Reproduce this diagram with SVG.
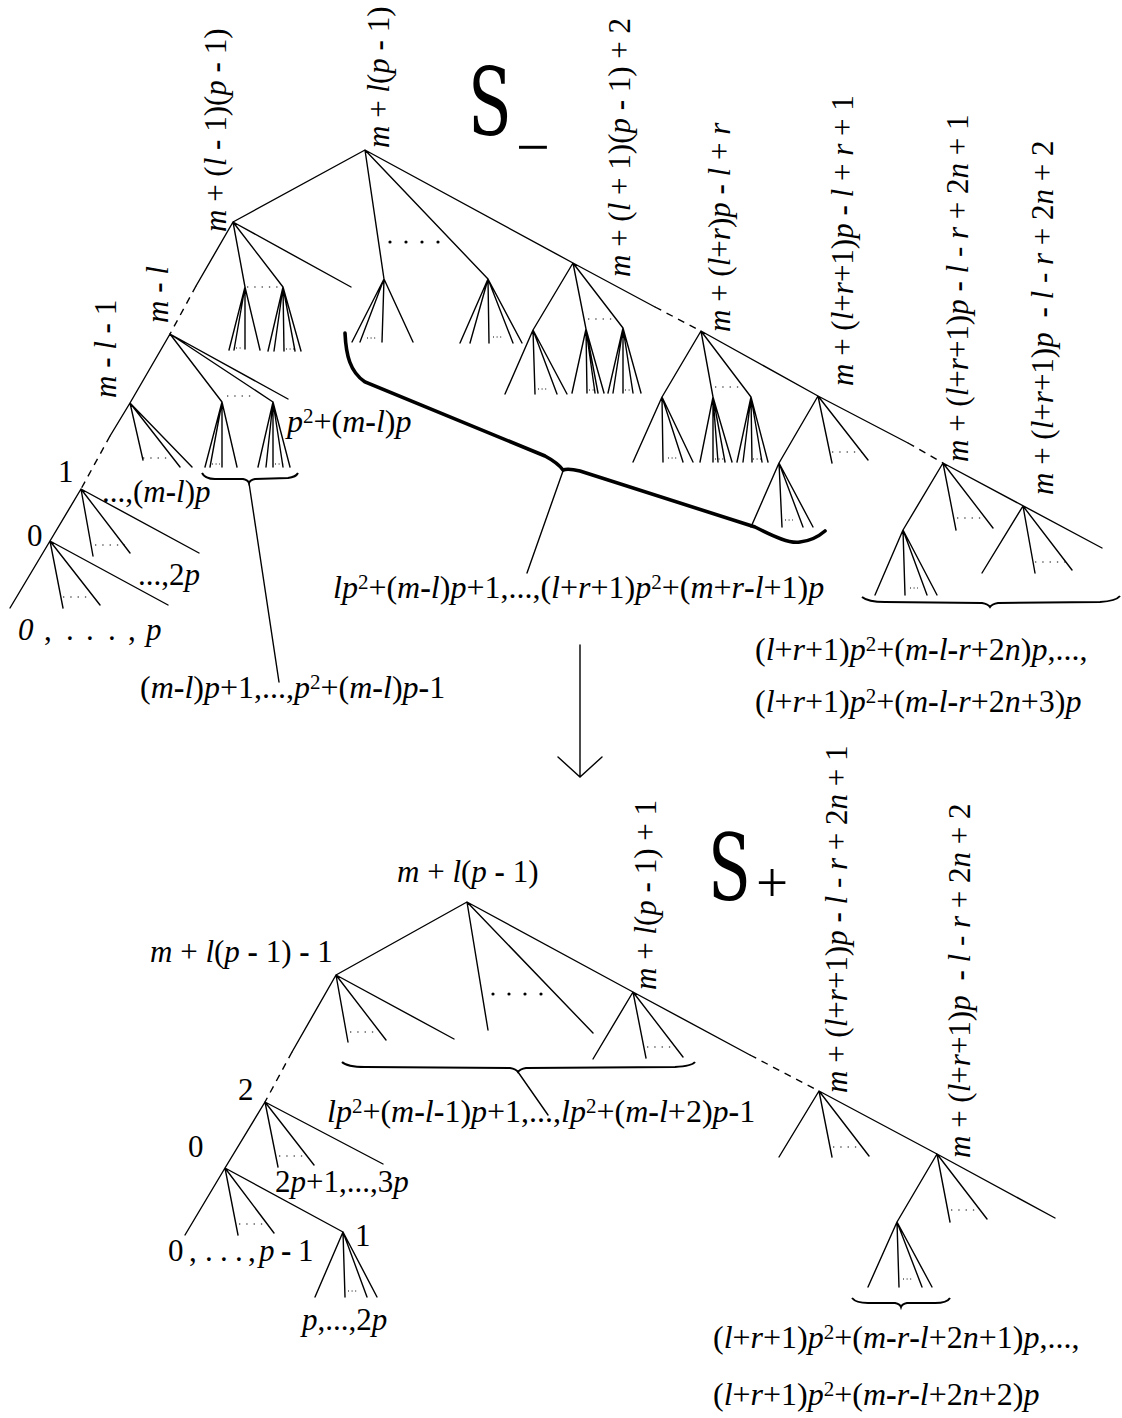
<svg xmlns="http://www.w3.org/2000/svg" width="1122" height="1418" viewBox="0 0 1122 1418" font-family="Liberation Serif, Times New Roman, Times, serif">
<style>
.t{font-family:'Liberation Serif','Times New Roman',Times,serif;font-size:31px;fill:#000}
.big{font-family:'DejaVu Serif',serif}
.c{font-size:32px}
.i{font-style:italic}
.h{font-weight:bold}
.sp{font-size:21px}
.e{stroke:#000;stroke-width:1.4;fill:none;stroke-linecap:round}
.ds{stroke:#000;stroke-width:1.4;stroke-dasharray:7 6;fill:none}
.dt{stroke:#000;stroke-width:1.2;stroke-dasharray:1.3 6;fill:none}
.dt2{stroke:#000;stroke-width:1;stroke-dasharray:1 2.6;fill:none}
.bd{stroke:#000;stroke-width:3.2;stroke-dasharray:0 16;stroke-linecap:round;fill:none}
.br{stroke:#000;stroke-width:2;fill:none}
.bb{stroke:#000;stroke-width:3.6;fill:none;stroke-linecap:round}
</style>
<rect width="1122" height="1418" fill="#fff"/>
<g id="connectors">
<path class="e" d="M365,150 L573,263 L655,307 M701,331 L818,396 L908,443 M943,463 L1102,548
M365,150 L233,222 M365,150 L384,279 M365,150 L488,279
M233,222 L196,286 M233,222 L245,287 M233,222 L283,287 M233,222 L351,287
M245,287 L229,350 M245,287 L234,350 M245,287 L245,349 M245,287 L260,350
M283,287 L268,351 M283,287 L274,351 M283,287 L284,351 M283,287 L295,351 M283,287 L301,351
M170,334 L130,403 M170,334 L222,402 M170,334 L273,402 M170,334 L288,399
M222,402 L205,467 M222,402 L210,467 M222,402 L222,467 M222,402 L237,467
M273,402 L258,467 M273,402 L266,467 M273,402 L273,467 M273,402 L283,467 M273,402 L290,467
M130,403 L110,436 M130,403 L143,460 M130,403 L180,467 M130,403 L192,467
M81,489 L50,541 M81,489 L93,556 M81,489 L130,553 M81,489 L199,553
M50,541 L10,608 M50,541 L63,608 M50,541 L100,605 M50,541 L168,605
M384,279 L352,342 M384,279 L360,342 M384,279 L382,342 M384,279 L413,342
M488,279 L460,343 M488,279 L470,343 M488,279 L489,343 M488,279 L513,343 M488,279 L522,343
M573,263 L533,330 M573,263 L586,329 M573,263 L623,328
M533,330 L505,394 M533,330 L535,394 M533,330 L557,394 M533,330 L567,394
M586,329 L572,393 M586,329 L587,393 M586,329 L595,393 M586,329 L598,393 M586,329 L604,393
M623,328 L608,393 M623,328 L613,393 M623,328 L623,393 M623,328 L633,393 M623,328 L641,393
M701,331 L662,397 M701,331 L713,397 M701,331 L751,397
M662,397 L633,462 M662,397 L663,462 M662,397 L683,462 M662,397 L693,462
M713,397 L700,462 M713,397 L713,462 M713,397 L718,462 M713,397 L725,462 M713,397 L732,462
M751,397 L737,462 M751,397 L743,462 M751,397 L752,462 M751,397 L762,462 M751,397 L768,462
M818,396 L779,463 M818,396 L832,463 M818,396 L868,460
M779,463 L751,527 M779,463 L782,527 M779,463 L803,527 M779,463 L813,527
M943,463 L903,530 M943,463 L956,530 M943,463 L993,528
M903,530 L875,595 M903,530 L905,595 M903,530 L927,595 M903,530 L937,595
M1023,506 L982,573 M1023,506 L1035,573 M1023,506 L1072,570
M249,483 L279,682 M563,471 L527,573"/>
<path class="ds" d="M655,307 L701,331 M908,443 L943,463 M196,286 L170,334 M110,436 L81,489"/>
<path class="dt" d="M247,287 L279,287 M227,396 L253,396 M143,458 L170,458 M95,545 L125,545 M63,597 L92,597 M588,319 L613,319 M715,387 L742,387 M832,452 L862,452 M957,518 L983,518 M1035,562 L1067,562"/>
<path class="dt2" d="M236,348 L243,348 M286,349 L294,349 M212,464 L220,464 M275,464 L285,464 M367,338 L377,338 M493,337 L503,337 M538,389 L548,389 M589,390 L596,390 M625,390 L633,390 M668,458 L677,458 M715,459 L724,459 M753,459 L762,459 M785,520 L793,520 M910,588 L918,588"/>
<path class="bd" d="M390,242 L440,242"/>
<path class="br" d="M202,473 Q205,479 215,479 L243,479 Q248,480 249,483 Q250,480 255,479 L288,478 Q296,477 298,473"/>
<path class="br" d="M862,597 Q868,602 885,602 L982,603 Q988,604 990,607 Q992,604 998,603 L1100,602 Q1116,601 1120,596"/>
<path class="bb" d="M345,333 C346,355 350,372 365,382 L545,456 Q558,463 563,470 Q568,468 580,471 L755,527 C775,537 790,544 800,542 C810,541 818,537 825,531"/>
<path class="e" d="M580,645 L580,777 M558,757 L580,777 L602,757"/>
<path class="e" d="M467,902 L633,992 L750,1055 M819,1091 L937,1154 L1055,1218
M467,902 L336,975 M467,902 L488,1030 M467,902 L593,1033
M336,975 L292,1052 M336,975 L348,1042 M336,975 L386,1040 M336,975 L454,1039
M633,992 L593,1059 M633,992 L646,1058 M633,992 L683,1057
M265,1102 L225,1168 M265,1102 L278,1167 M265,1102 L314,1165 M265,1102 L383,1164
M225,1168 L185,1235 M225,1168 L238,1235 M225,1168 L274,1233 M225,1168 L343,1232
M343,1232 L315,1297 M343,1232 L345,1297 M343,1232 L367,1297 M343,1232 L377,1297
M819,1091 L779,1157 M819,1091 L832,1157 M819,1091 L869,1156
M937,1154 L897,1222 M937,1154 L950,1222 M937,1154 L987,1219
M897,1222 L868,1287 M897,1222 L899,1287 M897,1222 L922,1287 M897,1222 L932,1287
M518,1072 L548,1115"/>
<path class="ds" d="M750,1055 L819,1091 M292,1052 L265,1102"/>
<path class="dt" d="M350,1032 L377,1032 M647,1047 L675,1047 M279,1156 L307,1156 M239,1224 L267,1224 M833,1147 L862,1147 M951,1210 L978,1210"/>
<path class="dt2" d="M348,1291 L358,1291 M903,1279 L912,1279"/>
<path class="bd" d="M493,994 L543,994"/>
<path class="br" d="M342,1062 Q347,1067 365,1067 L510,1068 Q516,1069 518,1072 Q520,1069 526,1068 L675,1067 Q692,1066 695,1062"/>
<path class="br" d="M852,1298 Q856,1303 868,1303 L895,1303 Q900,1304 901,1307 Q902,1304 907,1303 L935,1303 Q947,1303 950,1298"/>
</g>

<g id="title-minus"><text class="t big" transform="translate(468,135) scale(0.68,1)" style="font-size:94px">S</text><text class="t" x="516" y="167" style="font-size:60px">−</text></g>
<g id="title-plus"><text class="t big" transform="translate(708,900) scale(0.68,1)" style="font-size:92px">S</text><text class="t" x="756" y="902" style="font-size:57px">+</text></g>

<g id="n-root-top"><text class="t" transform="translate(389,148) rotate(-90)"><tspan class="i">m</tspan> + <tspan class="i">l</tspan>(<tspan class="i">p</tspan> <tspan class="h">-</tspan> 1)</text></g>
<g id="n-B"><text class="t" transform="translate(226,232) rotate(-90)"><tspan class="i">m</tspan> + (<tspan class="i">l</tspan> <tspan class="h">-</tspan> 1)(<tspan class="i">p</tspan> <tspan class="h">-</tspan> 1)</text></g>
<g id="n-H"><text class="t" transform="translate(168,323) rotate(-90)"><tspan class="i">m</tspan> <tspan class="h">-</tspan> <tspan class="i">l</tspan></text></g>
<g id="n-I"><text class="t" transform="translate(116,398) rotate(-90)"><tspan class="i">m</tspan> <tspan class="h">-</tspan> <tspan class="i">l</tspan> <tspan class="h">-</tspan> 1</text></g>
<g id="n-J"><text class="t" x="58" y="482">1</text></g>
<g id="n-K"><text class="t" x="27" y="546">0</text></g>
<g id="n-C"><text class="t" transform="translate(630,277) rotate(-90)"><tspan class="i">m</tspan> + (<tspan class="i">l</tspan> + 1)(<tspan class="i">p</tspan> <tspan class="h">-</tspan> 1) + 2</text></g>
<g id="n-D"><text class="t" transform="translate(730,332) rotate(-90)"><tspan class="i">m</tspan> + (<tspan class="i">l</tspan>+<tspan class="i">r</tspan>)<tspan class="i">p</tspan> <tspan class="h">-</tspan> <tspan class="i">l</tspan> + <tspan class="i">r</tspan></text></g>
<g id="n-E"><text class="t" transform="translate(853,386) rotate(-90)"><tspan class="i">m</tspan> + (<tspan class="i">l</tspan>+<tspan class="i">r</tspan>+1)<tspan class="i">p</tspan> <tspan class="h">-</tspan> <tspan class="i">l</tspan> + <tspan class="i">r</tspan> + 1</text></g>
<g id="n-F"><text class="t" transform="translate(968,462) rotate(-90)"><tspan class="i">m</tspan> + (<tspan class="i">l</tspan>+<tspan class="i">r</tspan>+1)<tspan class="i">p</tspan> <tspan class="h">-</tspan> <tspan class="i">l</tspan> - <tspan class="i">r</tspan> + 2<tspan class="i">n</tspan> + 1</text></g>
<g id="n-G"><text class="t" transform="translate(1053,495) rotate(-90)"><tspan class="i">m</tspan> + (<tspan class="i">l</tspan>+<tspan class="i">r</tspan>+1)<tspan class="i">p</tspan> <tspan class="h" dx="7">-</tspan> <tspan class="i">l</tspan> - <tspan class="i">r</tspan> + 2<tspan class="i">n</tspan> + 2</text></g>

<g id="lbl-top-1"><text class="t c" x="287" y="432"><tspan class="i">p</tspan><tspan class="sp" dy="-9">2</tspan><tspan dy="9">+(</tspan><tspan class="i">m</tspan><tspan class="h">-</tspan><tspan class="i">l</tspan>)<tspan class="i">p</tspan></text></g>
<g id="lbl-top-2"><text class="t" x="102" y="502">...,(<tspan class="i">m</tspan><tspan class="h">-</tspan><tspan class="i">l</tspan>)<tspan class="i">p</tspan></text></g>
<g id="lbl-top-3"><text class="t" x="138" y="585">...,2<tspan class="i">p</tspan></text></g>
<g id="lbl-top-4"><text class="t" y="640"><tspan class="i" x="18">0</tspan><tspan x="44">,</tspan><tspan x="66">.</tspan><tspan x="86">.</tspan><tspan x="108">.</tspan><tspan x="128">,</tspan><tspan class="i" x="146">p</tspan></text></g>
<g id="lbl-top-5"><text class="t c" x="140" y="698">(<tspan class="i">m</tspan><tspan class="h">-</tspan><tspan class="i">l</tspan>)<tspan class="i">p</tspan>+1,...,<tspan class="i">p</tspan><tspan class="sp" dy="-9">2</tspan><tspan dy="9">+(</tspan><tspan class="i">m</tspan><tspan class="h">-</tspan><tspan class="i">l</tspan>)<tspan class="i">p</tspan><tspan class="h">-</tspan>1</text></g>
<g id="lbl-top-6"><text class="t c" x="333" y="598"><tspan class="i">lp</tspan><tspan class="sp" dy="-9">2</tspan><tspan dy="9">+(</tspan><tspan class="i">m</tspan><tspan class="h">-</tspan><tspan class="i">l</tspan>)<tspan class="i">p</tspan>+1,...,(<tspan class="i">l</tspan>+<tspan class="i">r</tspan>+1)<tspan class="i">p</tspan><tspan class="sp" dy="-9">2</tspan><tspan dy="9">+(</tspan><tspan class="i">m</tspan>+<tspan class="i">r</tspan><tspan class="h">-</tspan><tspan class="i">l</tspan>+1)<tspan class="i">p</tspan></text></g>
<g id="lbl-top-7"><text class="t c" x="755" y="660">(<tspan class="i">l</tspan>+<tspan class="i">r</tspan>+1)<tspan class="i">p</tspan><tspan class="sp" dy="-9">2</tspan><tspan dy="9">+(</tspan><tspan class="i">m</tspan><tspan class="h">-</tspan><tspan class="i">l</tspan><tspan class="h">-</tspan><tspan class="i">r</tspan>+2<tspan class="i">n</tspan>)<tspan class="i">p</tspan>,...,</text></g>
<g id="lbl-top-8"><text class="t c" x="755" y="712">(<tspan class="i">l</tspan>+<tspan class="i">r</tspan>+1)<tspan class="i">p</tspan><tspan class="sp" dy="-9">2</tspan><tspan dy="9">+(</tspan><tspan class="i">m</tspan><tspan class="h">-</tspan><tspan class="i">l</tspan><tspan class="h">-</tspan><tspan class="i">r</tspan>+2<tspan class="i">n</tspan>+3)<tspan class="i">p</tspan></text></g>

<g id="n-root-bottom"><text class="t" x="397" y="882"><tspan class="i">m</tspan> + <tspan class="i">l</tspan>(<tspan class="i">p</tspan> <tspan class="h">-</tspan> 1)</text></g>
<g id="n-Q"><text class="t" x="150" y="962"><tspan class="i">m</tspan> + <tspan class="i">l</tspan>(<tspan class="i">p</tspan> <tspan class="h">-</tspan> 1) <tspan class="h">-</tspan> 1</text></g>
<g id="n-R"><text class="t" transform="translate(656,990) rotate(-90)"><tspan class="i">m</tspan> + <tspan class="i">l</tspan>(<tspan class="i">p</tspan> <tspan class="h">-</tspan> 1) + 1</text></g>
<g id="n-T"><text class="t" transform="translate(847,1093) rotate(-90)"><tspan class="i">m</tspan> + (<tspan class="i">l</tspan>+<tspan class="i">r</tspan>+1)<tspan class="i">p</tspan> <tspan class="h">-</tspan> <tspan class="i">l</tspan> - <tspan class="i">r</tspan> + 2<tspan class="i">n</tspan> + 1</text></g>
<g id="n-U"><text class="t" transform="translate(970,1158) rotate(-90)"><tspan class="i">m</tspan> + (<tspan class="i">l</tspan>+<tspan class="i">r</tspan>+1)<tspan class="i">p</tspan> <tspan class="h" dx="7">-</tspan> <tspan class="i">l</tspan> - <tspan class="i">r</tspan> + 2<tspan class="i">n</tspan> + 2</text></g>
<g id="n-2"><text class="t" x="238" y="1100">2</text></g>
<g id="n-0"><text class="t" x="188" y="1157">0</text></g>
<g id="n-1"><text class="t" x="355" y="1246">1</text></g>

<g id="lbl-bot-1"><text class="t c" x="327" y="1122"><tspan class="i">lp</tspan><tspan class="sp" dy="-9">2</tspan><tspan dy="9">+(</tspan><tspan class="i">m</tspan><tspan class="h">-</tspan><tspan class="i">l</tspan><tspan class="h">-</tspan>1)<tspan class="i">p</tspan>+1,...,<tspan class="i">lp</tspan><tspan class="sp" dy="-9">2</tspan><tspan dy="9">+(</tspan><tspan class="i">m</tspan><tspan class="h">-</tspan><tspan class="i">l</tspan>+2)<tspan class="i">p</tspan><tspan class="h">-</tspan>1</text></g>
<g id="lbl-bot-2"><text class="t" x="275" y="1192">2<tspan class="i">p</tspan>+1,...,3<tspan class="i">p</tspan></text></g>
<g id="lbl-bot-3"><text class="t" y="1261"><tspan x="168">0</tspan><tspan x="189">,</tspan><tspan x="205">.</tspan><tspan x="220">.</tspan><tspan x="235">.</tspan><tspan x="248">,</tspan><tspan class="i" x="259">p</tspan><tspan class="h" x="281">-</tspan><tspan x="298">1</tspan></text></g>
<g id="lbl-bot-4"><text class="t" x="302" y="1330"><tspan class="i">p</tspan>,...,2<tspan class="i">p</tspan></text></g>
<g id="lbl-bot-5"><text class="t c" x="713" y="1348">(<tspan class="i">l</tspan>+<tspan class="i">r</tspan>+1)<tspan class="i">p</tspan><tspan class="sp" dy="-9">2</tspan><tspan dy="9">+(</tspan><tspan class="i">m</tspan><tspan class="h">-</tspan><tspan class="i">r</tspan><tspan class="h">-</tspan><tspan class="i">l</tspan>+2<tspan class="i">n</tspan>+1)<tspan class="i">p</tspan>,...,</text></g>
<g id="lbl-bot-6"><text class="t c" x="713" y="1405">(<tspan class="i">l</tspan>+<tspan class="i">r</tspan>+1)<tspan class="i">p</tspan><tspan class="sp" dy="-9">2</tspan><tspan dy="9">+(</tspan><tspan class="i">m</tspan><tspan class="h">-</tspan><tspan class="i">r</tspan><tspan class="h">-</tspan><tspan class="i">l</tspan>+2<tspan class="i">n</tspan>+2)<tspan class="i">p</tspan></text></g>
</svg>
